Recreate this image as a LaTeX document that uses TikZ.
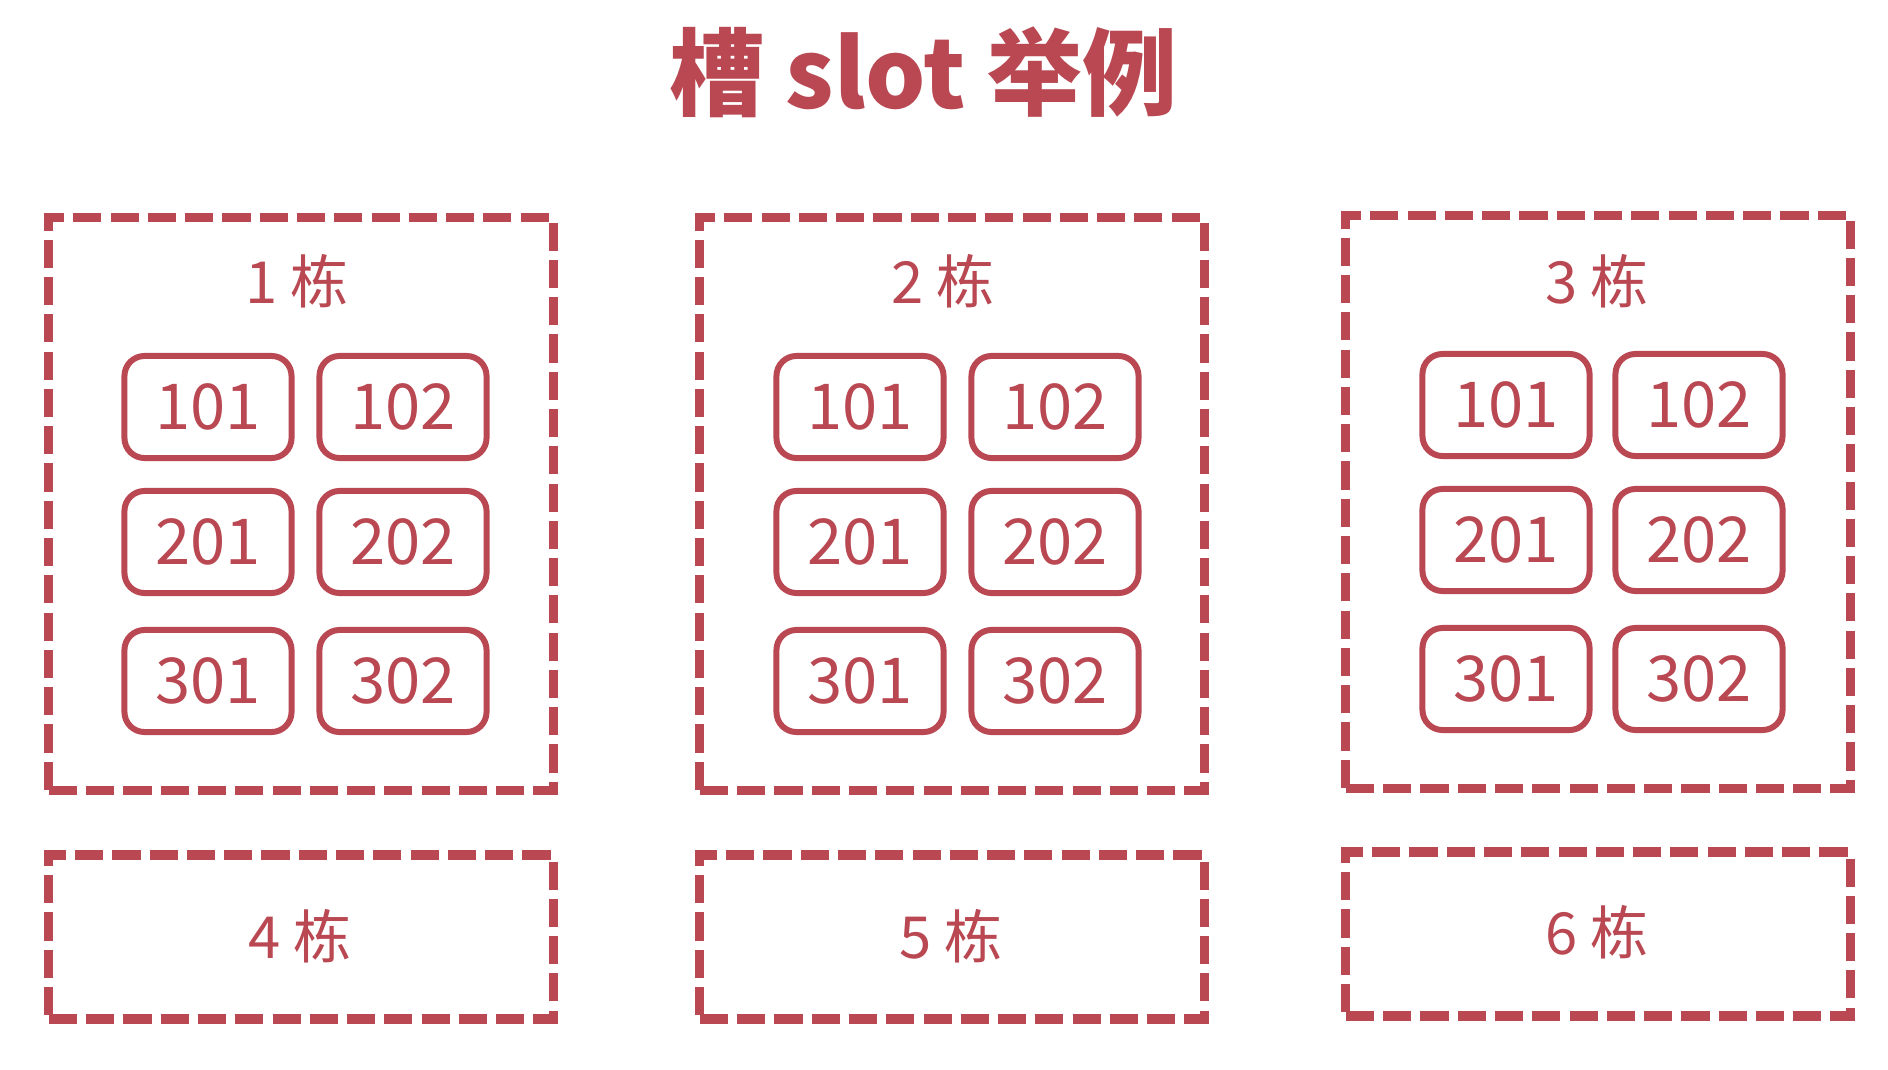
\documentclass[tikz,border=0pt]{standalone}
\usepackage{fontspec}
\setmainfont{Noto Sans CJK SC}
\definecolor{slotred}{RGB}{185,72,82}

\begin{document}
\begin{tikzpicture}[x=0.01cm,y=-0.01cm,
  building node/.style={draw=slotred,line width=2.6pt,dash pattern=on 8pt off 2.6pt,
    minimum width=5.04cm,inner sep=0pt},
  room node/.style={draw=slotred,line width=1.7pt,rounded corners=0.2cm,
    minimum width=1.67cm,minimum height=1.02cm,text=slotred,font=\fontsize{18}{18}\selectfont},
  label node/.style={text=slotred,font=\fontsize{16.5}{16.5}\selectfont}]

  \useasboundingbox (0,0) rectangle (1888,1070);

  \node[text=slotred,font=\bfseries\fontsize{27}{27}\selectfont] (title) at (923,72) {槽 slot 举例};

  % buildings
  \node[building node,minimum height=5.72cm] (b1) at (301,504) {};
  \node[building node,minimum height=5.72cm] (b2) at (952,504) {};
  \node[building node,minimum height=5.72cm] (b3) at (1598,502) {};
  \node[building node,minimum height=1.64cm] (b4) at (301,937) {};
  \node[building node,minimum height=1.64cm] (b5) at (952,937) {};
  \node[building node,minimum height=1.64cm] (b6) at (1598,934) {};

  \node[label node] (l1) at (297,281) {1 栋};
  \node[label node] (l2) at (943,281) {2 栋};
  \node[label node] (l3) at (1597,281) {3 栋};
  \node[label node] (l4) at (300,936) {4 栋};
  \node[label node] (l5) at (951,936) {5 栋};
  \node[label node] (l6) at (1597,932) {6 栋};

  % rooms of 1
  \node[room node] (r1-101) at (208,407) {101};
  \node[room node] (r1-102) at (403,407) {102};
  \node[room node] (r1-201) at (208,542) {201};
  \node[room node] (r1-202) at (403,542) {202};
  \node[room node] (r1-301) at (208,681) {301};
  \node[room node] (r1-302) at (403,681) {302};

  % rooms of 2
  \node[room node] (r2-101) at (860,407) {101};
  \node[room node] (r2-102) at (1055,407) {102};
  \node[room node] (r2-201) at (860,542) {201};
  \node[room node] (r2-202) at (1055,542) {202};
  \node[room node] (r2-301) at (860,681) {301};
  \node[room node] (r2-302) at (1055,681) {302};

  % rooms of 3
  \node[room node] (r3-101) at (1506,405) {101};
  \node[room node] (r3-102) at (1699,405) {102};
  \node[room node] (r3-201) at (1506,540) {201};
  \node[room node] (r3-202) at (1699,540) {202};
  \node[room node] (r3-301) at (1506,679) {301};
  \node[room node] (r3-302) at (1699,679) {302};

\end{tikzpicture}
\end{document}
